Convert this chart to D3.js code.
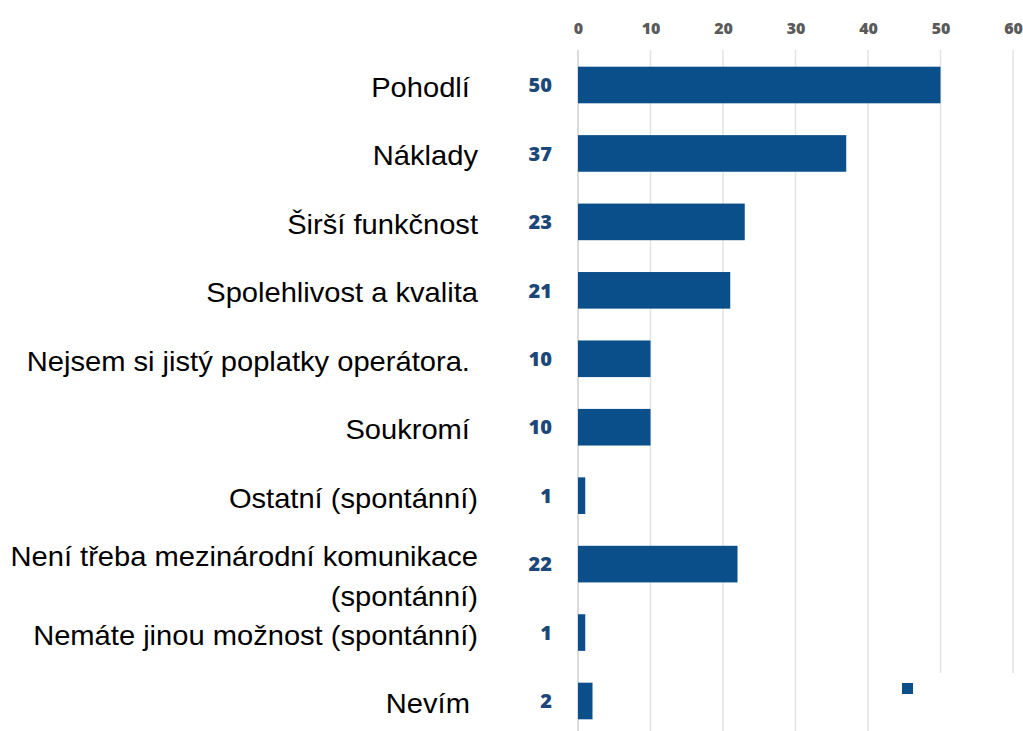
<!DOCTYPE html>
<html>
<head>
<meta charset="utf-8">
<script src="https://cdn.jsdelivr.net/npm/d3@7/dist/d3.min.js"></script>
<style>
  html, body { margin: 0; padding: 0; background: #ffffff; }
  svg { display: block; }
  text { white-space: pre; }
</style>
</head>
<body>
<svg id="chart" width="1023" height="731"></svg>
<script>
// ---- data ----
const categories = [
  "Pohodlí ",
  "Náklady",
  "Širší funkčnost",
  "Spolehlivost a kvalita",
  "Nejsem si jistý poplatky operátora. ",
  "Soukromí ",
  "Ostatní (spontánní)",
  "Není třeba mezinárodní komunikace\n(spontánní)",
  "Nemáte jinou možnost (spontánní)",
  "Nevím "
];
const values = [50, 37, 23, 21, 10, 10, 1, 22, 1, 2];
const tickValues = [0, 10, 20, 30, 40, 50, 60];

// ---- layout ----
const W = 1023, H = 731;
const barColor = "#0b4f8a";
const svg = d3.select("#chart");

const x = d3.scaleLinear().domain([0, 60]).range([578, 1013]);
const y = d3.scaleBand().domain(categories).range([53, 733])
  .paddingInner(0.465).paddingOuter(0.2);

// gridlines
svg.append("g").selectAll("line").data(tickValues).join("line")
  .attr("x1", d => x(d)).attr("x2", d => x(d))
  .attr("y1", 50).attr("y2", H)
  .attr("stroke", d => d === 0 ? "#cfcfcf" : "#e3e3e3")
  .attr("stroke-width", 1.5);

// top axis labels
const axis = d3.axisTop(x).tickValues(tickValues).tickSize(0).tickPadding(0);
const gAxis = svg.append("g").attr("transform", "translate(0,34)").call(axis);
gAxis.select(".domain").remove();
gAxis.selectAll("text")
  .attr("font-family", "'Open Sans', 'Liberation Sans', sans-serif")
  .attr("font-weight", 800)
  .attr("font-size", 16)
  .attr("fill", "#5a5a5a");

// bars
svg.append("g").selectAll("rect").data(categories).join("rect")
  .attr("x", x(0))
  .attr("y", d => y(d))
  .attr("width", (d, i) => x(values[i]) - x(0))
  .attr("height", y.bandwidth())
  .attr("fill", barColor);

// value labels
svg.append("g").selectAll("text").data(categories).join("text")
  .attr("x", 552)
  .attr("y", d => y(d) + y.bandwidth() / 2)
  .attr("dy", "0.36em")
  .attr("text-anchor", "end")
  .attr("font-family", "'Open Sans', 'Liberation Sans', sans-serif")
  .attr("font-weight", 800)
  .attr("font-size", 20)
  .attr("fill", "#1b4878")
  .text((d, i) => values[i]);

// category labels (slightly widened to match the reference's proportions)
const gCat = svg.append("g").attr("transform", "translate(478,0) scale(1.04,1)");
categories.forEach(c => {
  const lines = c.split("\n");
  const cy = y(c) + y.bandwidth() / 2;
  const t = gCat.append("text")
    .attr("text-anchor", "end")
    .attr("font-family", "'Liberation Sans', Arial, sans-serif")
    .attr("font-size", 28)
    .attr("fill", "#000");
  if (lines.length === 1) {
    t.append("tspan").attr("x", 0).attr("y", cy + 12).text(lines[0]);
  } else {
    lines.forEach((ln, k) => {
      t.append("tspan").attr("x", 0).attr("y", cy + 2 + k * 40).text(ln);
    });
  }
});

// legend (white box with marker)
svg.append("rect").attr("x", 878).attr("y", 673).attr("width", W - 878).attr("height", H - 673)
  .attr("fill", "#ffffff");
svg.append("rect").attr("x", 902).attr("y", 683).attr("width", 11).attr("height", 11)
  .attr("fill", barColor);
</script>
</body>
</html>
